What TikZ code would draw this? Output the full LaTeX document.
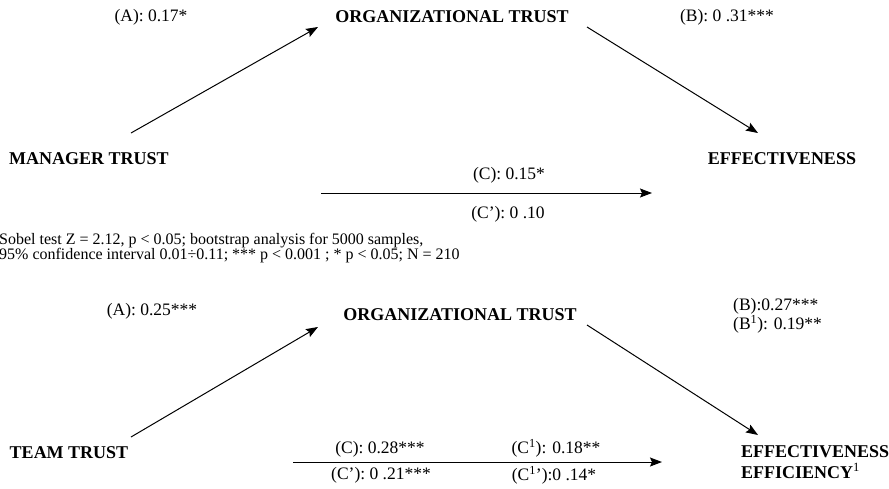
\documentclass[tikz,border=0pt]{standalone}
\usepackage{fontspec}
\setmainfont{Liberation Serif}
\usetikzlibrary{arrows.meta}
\tikzset{
  var/.style={font=\fontsize{18}{21}\selectfont\bfseries, inner sep=0pt},
  coef/.style={font=\fontsize{17.5}{19}\selectfont, inner sep=0pt},
  effect/.style={-{Stealth[length=12pt,width=9pt,inset=2pt]}, line width=1pt},
}
\begin{document}
\begin{tikzpicture}[x=1pt,y=-1pt]
\useasboundingbox (0,0) rectangle (889,488);
% upper model
\node[var] (mt) at (89,159) {MANAGER TRUST};
\node[var] (ot) at (452,17) {ORGANIZATIONAL TRUST};
\node[var] (ef) at (782,159) {EFFECTIVENESS};
\node[coef] (la) at (151,17) {(A): 0.17*};
\node[coef] (lb) at (727,17) {(B): 0 .31***};
\node[coef] (lc) at (509,175) {(C): 0.15*};
\node[coef] (lcp) at (508,214) {(C’): 0 .10};
\coordinate (as) at (131,133); \coordinate (ae) at (318,27);
\coordinate (bs) at (587,27); \coordinate (be) at (758,133);
\coordinate (cs) at (321,193); \coordinate (ce) at (652,193);
\draw[effect] (as) -- (ae);
\draw[effect] (bs) -- (be);
\draw[effect] (cs) -- (ce);
\node[font=\fontsize{16}{15.5}\selectfont, inner sep=0pt, align=left, anchor=north west] (note) at (-1,233)
  {Sobel test Z = 2.12, p < 0.05; bootstrap analysis for 5000 samples,\\
   95\% confidence interval 0.01÷0.11; *** p < 0.001 ; * p < 0.05; N = 210};
% lower model
\node[var] (tt) at (69,453) {TEAM TRUST};
\node[var] (ot2) at (460,315) {ORGANIZATIONAL TRUST};
\node[var, align=left, anchor=north west] (ef2) at (741,445)
  {EFFECTIVENESS\\EFFICIENCY\textsuperscript{\mdseries 1}};
\node[coef] (la2) at (152,311) {(A): 0.25***};
\node[coef, align=left, anchor=north west] (lb2) at (733,298) {(B):0.27***\\(B\textsuperscript{1}): 0.19**};
\node[coef] (lc2) at (380,449) {(C): 0.28***};
\node[coef] (lcp2) at (381,475) {(C’): 0 .21***};
\node[coef] (ld2) at (556,448) {(C\textsuperscript{1}): 0.18**};
\node[coef] (ldp2) at (554,475) {(C\textsuperscript{1}’):0 .14*};
\coordinate (as2) at (131,437); \coordinate (ae2) at (318,327);
\coordinate (bs2) at (587,325); \coordinate (be2) at (758,435);
\coordinate (cs2) at (293,462); \coordinate (ce2) at (662,462);
\draw[effect] (as2) -- (ae2);
\draw[effect] (bs2) -- (be2);
\draw[effect] (cs2) -- (ce2);
\end{tikzpicture}
\end{document}
